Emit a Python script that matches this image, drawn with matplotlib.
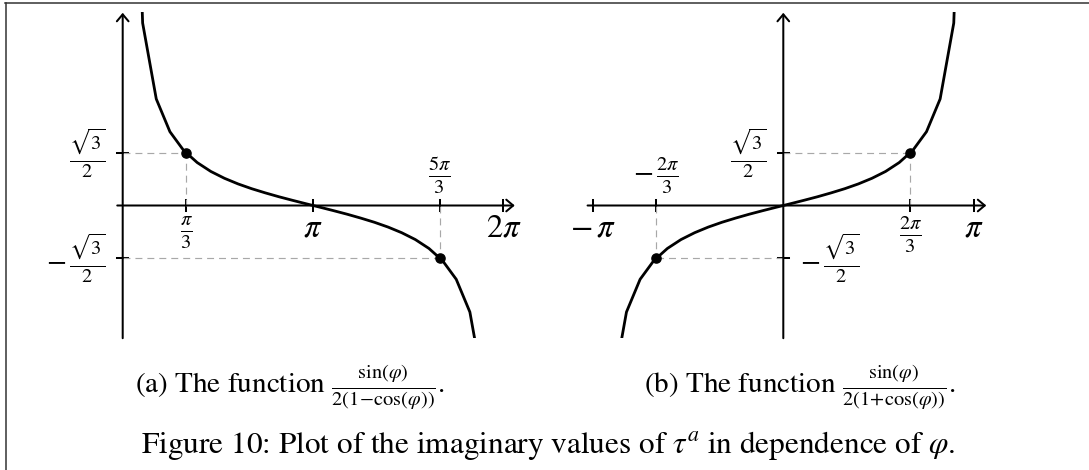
import numpy as np
import matplotlib
matplotlib.use("Agg")
import matplotlib.pyplot as plt
from matplotlib.lines import Line2D

plt.rcParams["font.family"] = "STIXGeneral"
plt.rcParams["mathtext.fontset"] = "stix"
plt.rcParams["lines.scale_dashes"] = False

# sampled points of sin(phi) / (2(1 - cos(phi))) on (0, 2pi)
phi_a = [0.104, 0.329, 0.554, 0.779, 1.004, 1.229, 1.454, 1.679, 1.904, 2.129,
         2.354, 2.579, 2.804, 3.029, 3.254, 3.479, 3.704, 3.929, 4.154, 4.379,
         4.604, 4.829, 5.054, 5.279, 5.504, 5.729, 5.954, 6.179]
tau_a = [9.598, 3.011, 1.758, 1.218, 0.911, 0.709, 0.562, 0.449, 0.356, 0.277,
         0.208, 0.144, 0.085, 0.028, -0.028, -0.085, -0.144, -0.208, -0.277, -0.356,
         -0.449, -0.562, -0.709, -0.911, -1.218, -1.758, -3.011, -9.598]

# sampled points of sin(phi) / (2(1 + cos(phi))) on (-pi, pi)
phi_b = [-3.038, -2.813, -2.588, -2.363, -2.138, -1.913, -1.688, -1.463, -1.238, -1.013,
         -0.788, -0.563, -0.338, -0.113, 0.113, 0.338, 0.563, 0.788, 1.013, 1.238,
         1.463, 1.688, 1.913, 2.138, 2.363, 2.588, 2.813, 3.038]
tau_b = [-9.598, -3.011, -1.758, -1.218, -0.911, -0.709, -0.562, -0.449, -0.356, -0.277,
         -0.208, -0.144, -0.085, -0.028, 0.028, 0.085, 0.144, 0.208, 0.277, 0.356,
         0.449, 0.562, 0.709, 0.911, 1.218, 1.758, 3.011, 9.598]

r3 = np.sqrt(3) / 2
xticks_a = [np.pi / 3, np.pi, 5 * np.pi / 3, 2 * np.pi]
xlabels_a = [r"$\frac{\pi}{3}$", r"$\pi$", r"$\frac{5\pi}{3}$", r"$2\pi$"]
xlabel_side_a = ["below", "below", "above", "below"]
xticks_b = [-np.pi, -2 * np.pi / 3, 2 * np.pi / 3, np.pi]
xlabels_b = [r"$-\,\pi$", r"$-\,\frac{2\pi}{3}$", r"$\frac{2\pi}{3}$", r"$\pi$"]
xlabel_side_b = ["below", "above", "below", "below"]
yticks = [r3, -r3]
ylabels = [r"$\frac{\sqrt{3}}{2}$", r"$-\,\frac{\sqrt{3}}{2}$"]
ylabel_side_a = ["left", "left"]
ylabel_side_b = ["left", "right"]
marks_a = [(np.pi / 3, r3), (5 * np.pi / 3, -r3)]
marks_b = [(-2 * np.pi / 3, -r3), (2 * np.pi / 3, r3)]

W, H = 1089, 470
S = 60.6          # pixels per unit
PT = 0.72         # points per pixel at 100 dpi
YLIM = (-2.19, 3.19)

fig = plt.figure(figsize=(W / 100, H / 100), dpi=100)


def label_size(lab):
    return 21 if r"\frac" in lab else 23.5


def make_axes(ox, oy, xlim):
    x0, x1 = xlim
    y0, y1 = YLIM
    left = (ox + x0 * S) / W
    bottom = (H - (oy - y0 * S)) / H
    ax = fig.add_axes([left, bottom, (x1 - x0) * S / W, (y1 - y0) * S / H])
    ax.set_xlim(x0, x1)
    ax.set_ylim(y0, y1)
    ax.axis("off")
    return ax


def draw(ax, phi, tau, xrange, xticks, xlabels, xsides, ysides, marks):
    arrow = dict(arrowstyle="->,head_length=0.5,head_width=0.42", lw=1.45,
                 color="black", shrinkA=0, shrinkB=0, mutation_scale=10)
    ax.annotate("", xy=(xrange[1], 0), xytext=(xrange[0], 0), arrowprops=arrow)
    ax.annotate("", xy=(0, 3.18), xytext=(0, YLIM[0]), arrowprops=arrow)

    t = 5.5 / S
    for x, lab, side in zip(xticks, xlabels, xsides):
        ax.plot([x, x], [-t, t], color="black", lw=1.45)
        if side == "below":
            ax.annotate(lab, (x, 0), xytext=(0, -9 * PT), textcoords="offset points",
                        ha="center", va="top", fontsize=label_size(lab))
        else:
            ax.annotate(lab, (x, 0), xytext=(0, 10 * PT), textcoords="offset points",
                        ha="center", va="bottom", fontsize=label_size(lab))
    for y, lab, side in zip(yticks, ylabels, ysides):
        ax.plot([-t, t], [y, y], color="black", lw=1.45)
        dx = -17 if side == "left" else 17
        ax.annotate(lab, (0, y), xytext=(dx * PT, 0), textcoords="offset points",
                    ha="right" if side == "left" else "left", va="center",
                    fontsize=label_size(lab))

    dash = dict(color="#a8a8a8", lw=0.85, dashes=(5.0, 3.6))
    for x, y in marks:
        ax.plot([0, x], [y, y], **dash)
        ax.plot([x, x], [0, y], **dash)

    ax.plot(phi, tau, color="black", lw=2.0)
    for x, y in marks:
        ax.plot(x, y, "o", color="black", ms=6.6, zorder=5)


ax_a = make_axes(122.7, 205.5, (-0.6, 6.8))
draw(ax_a, phi_a, tau_a, (-0.09, 6.47), xticks_a, xlabels_a, xlabel_side_a,
     ylabel_side_a, marks_a)

ax_b = make_axes(783.3, 205.5, (-3.6, 3.6))
draw(ax_b, phi_b, tau_b, (-3.23, 3.35), xticks_b, xlabels_b, xlabel_side_b,
     ylabel_side_b, marks_b)

# page frame
fig.add_artist(Line2D([5 / W, 1], [1 - 3.3 / H, 1 - 3.3 / H], color="#333333", lw=1.1))
fig.add_artist(Line2D([5.7 / W, 5.7 / W], [0, 1 - 3.3 / H], color="#333333", lw=1.1))

fig.text(290 / W, 1 - 393 / H,
         r"(a) The function $\frac{\sin(\varphi)}{2(1\!-\!\cos(\varphi))}$.",
         ha="center", va="baseline", fontsize=21)
fig.text(800 / W, 1 - 393 / H,
         r"(b) The function $\frac{\sin(\varphi)}{2(1\!+\!\cos(\varphi))}$.",
         ha="center", va="baseline", fontsize=21)
fig.text(548 / W, 1 - 452.7 / H,
         r"Figure 10: Plot of the imaginary values of $\tau^a$ in dependence of $\varphi$.",
         ha="center", va="baseline", fontsize=22.5)

fig.savefig("out.png", dpi=100)
